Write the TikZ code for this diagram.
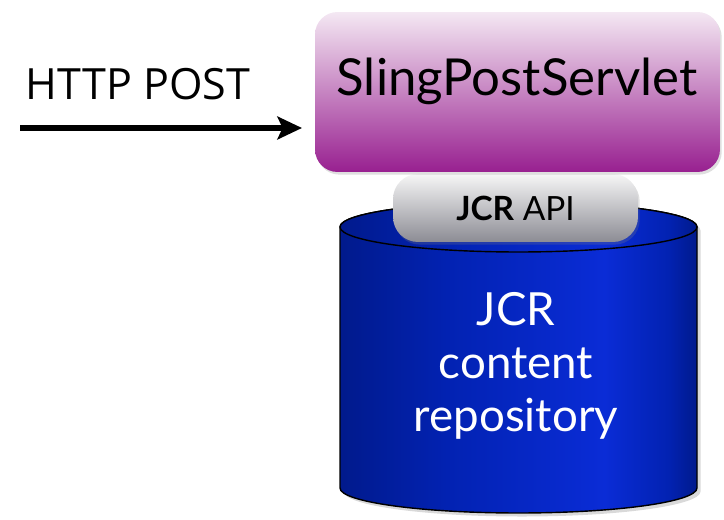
\documentclass[tikz,border=0pt]{standalone}
\usepackage{fontspec}
\setmainfont{Lato}
\newfontfamily\httpfont{Open Sans}
\usetikzlibrary{arrows.meta,shadows}

\definecolor{servlettop}{HTML}{F4E8F3}
\definecolor{servletmid}{HTML}{C47EBD}
\definecolor{servletbot}{HTML}{982090}
\definecolor{apitop}{HTML}{F6F6F6}
\definecolor{apibot}{HTML}{8C8C94}
\definecolor{cyldark}{HTML}{011A8C}
\definecolor{cylmid}{HTML}{0222B2}
\definecolor{cyllight}{HTML}{0A2CD6}
\pgfdeclarehorizontalshading{cylshade}{100bp}{color(0bp)=(cyldark); color(25bp)=(cyldark); color(40bp)=(cylmid); color(62bp)=(cyllight); color(71bp)=(cylmid); color(75bp)=(cyldark); color(100bp)=(cyldark)}

\tikzset{
  servletbox/.style = {rounded corners = 0.45cm, minimum width = 8.1cm, minimum height = 3.2cm,
    top color = servlettop, middle color = servletmid, bottom color = servletbot,
    drop shadow = {opacity = 0.25, shadow xshift = 1pt, shadow yshift = -1.5pt}},
  apibox/.style = {rounded corners = 0.5cm, minimum width = 4.9cm, minimum height = 1.36cm,
    top color = apitop, bottom color = apibot, font = \fontsize{19}{22}\selectfont,
    drop shadow = {opacity = 0.25, shadow xshift = 1pt, shadow yshift = -1.5pt}},
}

\begin{document}
\begin{tikzpicture}[x = 0.02cm, y = 0.02cm]
  \useasboundingbox (0,0) rectangle (724,520);
  % repository
  \draw [shading = cylshade, line width = 0.8pt, drop shadow = {opacity = 0.3, shadow xshift = 2pt, shadow yshift = -2pt}]
    (340,293) -- (340,32) arc (180:360:178.5 and 25) -- (697,293) arc (0:180:178.5 and 25) -- cycle;
  \draw [shading = cylshade, line width = 0.8pt] (518.5,293) ellipse (178.5 and 25);
  \node [text = white, align = center, font = \fontsize{26}{30}\selectfont] (repo) at (516,154) {JCR\\content\\repository};
  % api and servlet
  \node [apibox] (api) at (515.5,312) {\textbf{JCR} API};
  \node [servletbox] (servlet) at (517.5,428) {};
  \node [font = \fontsize{29}{34}\selectfont] (servletname) at (517,439) {SlingPostServlet};
  % request
  \node [font = \httpfont\fontsize{24.5}{30}\selectfont] (httplabel) at (138,436) {HTTP POST};
  \coordinate (arrowtail) at (20,392);
  \coordinate (arrowtip) at (302,392);
  \draw [-{Stealth[length = 14pt, width = 13pt, inset = 3pt]}, line width = 3.2pt] (arrowtail) -- (arrowtip);
\end{tikzpicture}
\end{document}
